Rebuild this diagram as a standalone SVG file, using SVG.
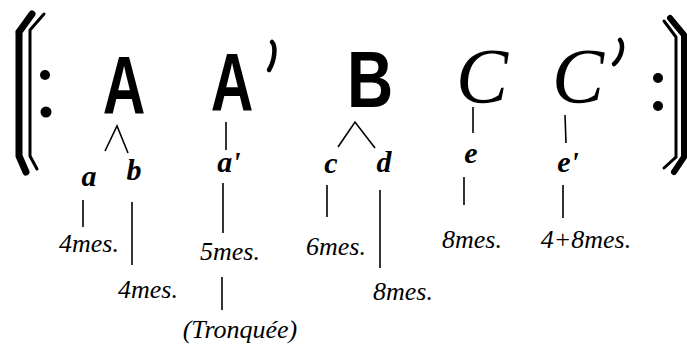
<svg xmlns="http://www.w3.org/2000/svg" width="687" height="351" viewBox="0 0 687 351">
<style>
.big{font-family:"Liberation Sans","DejaVu Sans",sans-serif;font-weight:bold;font-size:82px;fill:#000}
.scr{font-family:"Liberation Serif","DejaVu Serif",serif;font-style:italic;font-size:78px;fill:#000}
.sm{font-family:"Liberation Serif","DejaVu Serif",serif;font-style:italic;font-weight:bold;font-size:30px;fill:#000}
.ms{font-family:"Liberation Serif","DejaVu Serif",serif;font-style:italic;font-size:26px;fill:#000}
.ln{stroke:#000;stroke-width:1.6;fill:none}
.bar{fill:none;stroke:#000;stroke-linecap:round}
</style>
<rect width="687" height="351" fill="#fff"/>
<g id="repeat-left">
<path class="bar" d="M19,32 L19,156 L26,172 M19,32 L32,14" stroke-width="7"/>
<path class="bar" d="M30,30 L30,156 L37,169 M30,30 L44,14" stroke-width="3"/>
<circle cx="45" cy="75" r="5"/>
<circle cx="46" cy="112" r="5.5"/>
</g>
<g id="repeat-right">
<path class="bar" d="M676,37 L676,157 L664,168 M676,37 L664,21" stroke-width="3"/>
<path class="bar" d="M684,35 L684,157 L674,172 M684,35 L670,18" stroke-width="6"/>
<circle cx="658" cy="78" r="5"/>
<circle cx="658" cy="106" r="5"/>
</g>
<g id="node-A"><text class="big" transform="translate(124,113) scale(0.72,1)" text-anchor="middle">A</text></g>
<g id="node-A2"><text class="big" transform="translate(232,110) scale(0.72,1)" text-anchor="middle">A</text><path d="M272,42 C276,46 275,60 269,70" stroke="#000" stroke-width="4.5" fill="none" stroke-linecap="round"/></g>
<g id="node-B"><text class="big" transform="translate(370,107) scale(0.78,0.98)" text-anchor="middle">B</text></g>
<g id="node-C"><text class="scr" x="482" y="102" text-anchor="middle">C</text></g>
<g id="node-C2"><text class="scr" x="578" y="102" text-anchor="middle">C</text><path d="M620,40 C624,45 622,57 614,64" stroke="#000" stroke-width="4.5" fill="none" stroke-linecap="round"/></g>
<g id="connectors">
<path class="ln" d="M105,151 L117,126 L128,153"/>
<path class="ln" d="M226,122 L226,150"/>
<path class="ln" d="M338,147 L355,122 L375,148"/>
<path class="ln" d="M473,107 L473,133"/>
<path class="ln" d="M565,115 L566,143"/>
<path class="ln" d="M83,200 L83,227"/>
<path class="ln" d="M132,202 L132,265"/>
<path class="ln" d="M223,183 L223,233"/>
<path class="ln" d="M222,277 L222,310"/>
<path class="ln" d="M327,185 L327,217"/>
<path class="ln" d="M380,190 L380,268"/>
<path class="ln" d="M464,177 L464,205"/>
<path class="ln" d="M563,185 L563,218"/>
</g>
<g id="node-a"><text class="sm" x="89" y="186" text-anchor="middle">a</text></g>
<g id="node-b"><text class="sm" x="134" y="180" text-anchor="middle">b</text></g>
<g id="node-a2"><text class="sm" x="229" y="172" text-anchor="middle">a'</text></g>
<g id="node-c"><text class="sm" x="331" y="173" text-anchor="middle">c</text></g>
<g id="node-d"><text class="sm" x="384" y="172" text-anchor="middle">d</text></g>
<g id="node-e"><text class="sm" x="471" y="163" text-anchor="middle">e</text></g>
<g id="node-e2"><text class="sm" x="568" y="172" text-anchor="middle">e'</text></g>
<g id="label-a"><text class="ms" x="89" y="252" text-anchor="middle">4mes.</text></g>
<g id="label-b"><text class="ms" x="148" y="298" text-anchor="middle">4mes.</text></g>
<g id="label-a2"><text class="ms" x="230" y="260" text-anchor="middle">5mes.</text></g>
<g id="label-tronquee"><text class="ms" x="240" y="338" text-anchor="middle">(Tronquée)</text></g>
<g id="label-c"><text class="ms" x="336" y="255" text-anchor="middle">6mes.</text></g>
<g id="label-d"><text class="ms" x="403" y="300" text-anchor="middle">8mes.</text></g>
<g id="label-e"><text class="ms" x="472" y="248" text-anchor="middle">8mes.</text></g>
<g id="label-e2"><text class="ms" x="586" y="248" text-anchor="middle">4+8mes.</text></g>
</svg>
